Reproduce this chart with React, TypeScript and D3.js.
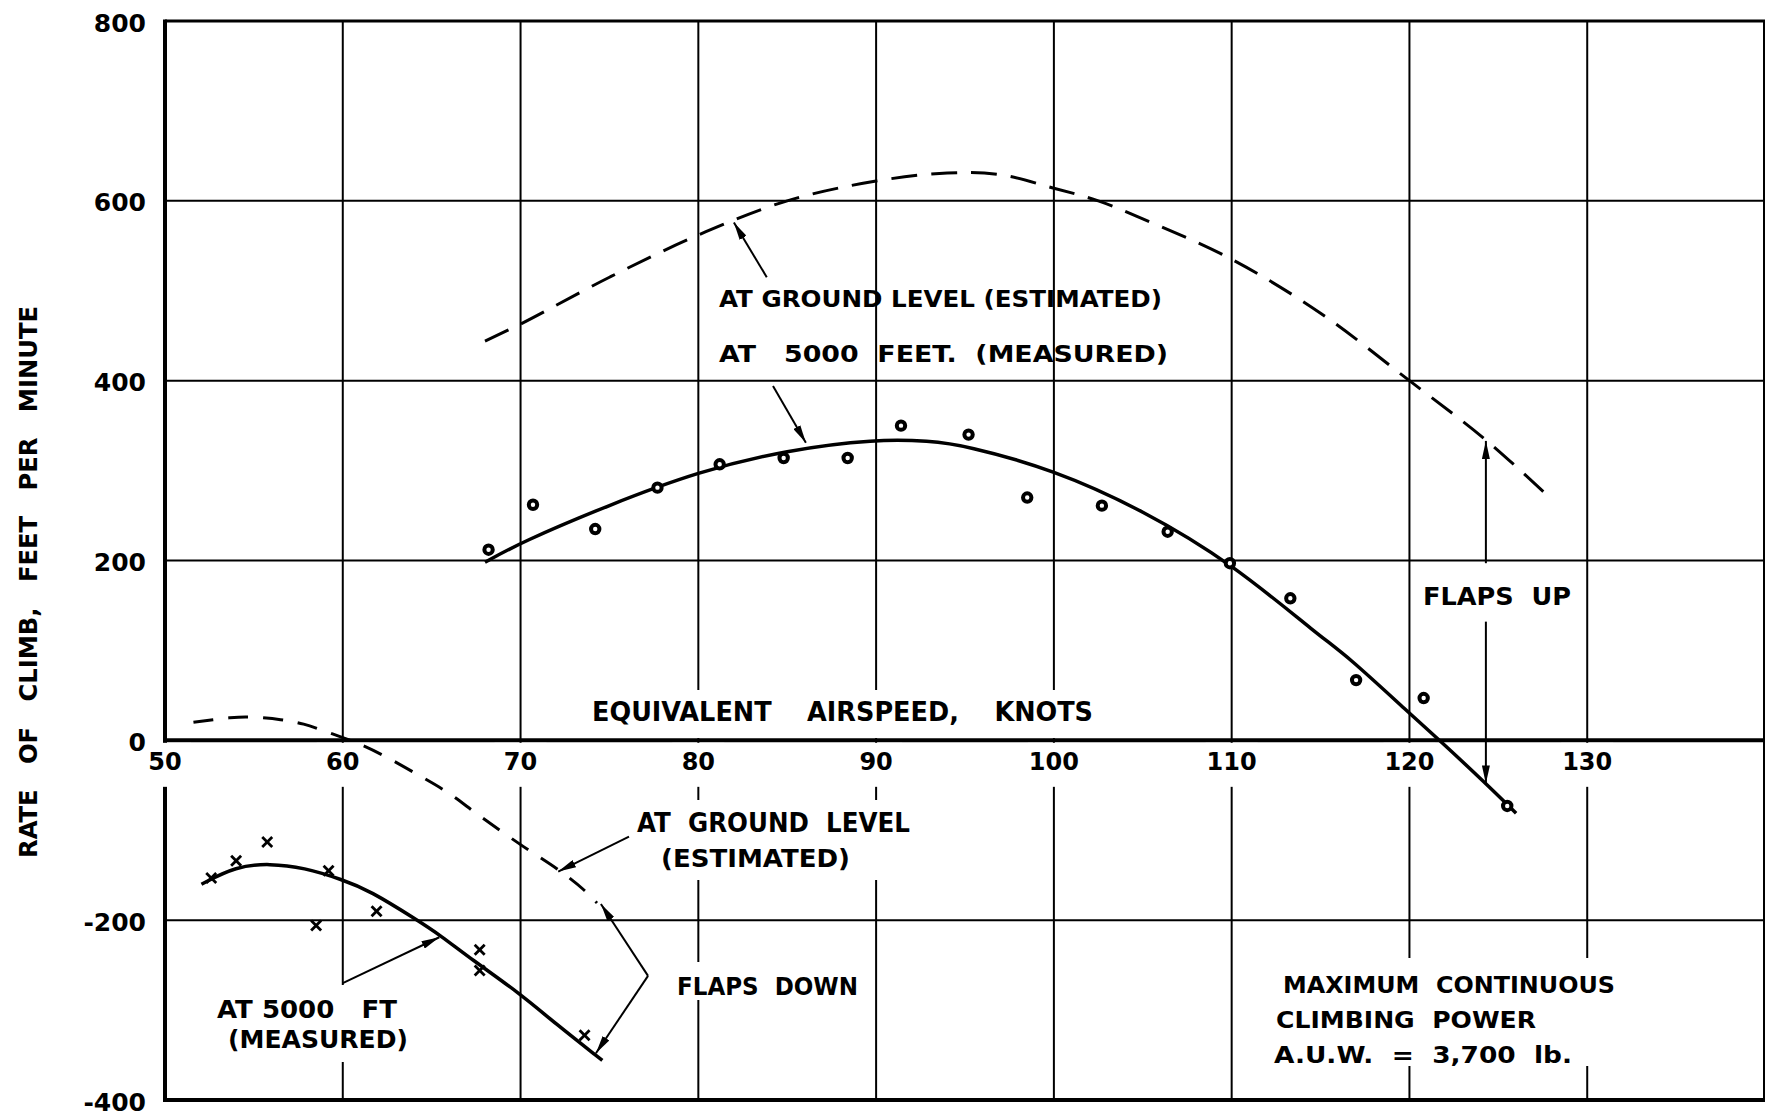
import React from "react";
import * as d3 from "d3";

// ---- axes ----
const X_TICKS = [50, 60, 70, 80, 90, 100, 110, 120, 130];
const X_GRID = [60, 70, 80, 90, 100, 110, 120, 130];
const Y_TICKS = [800, 600, 400, 200, 0, -200, -400];
const Y_TICK_LABELS = ["800", "600", "400", "200", "0", "-200", "-400"];
const Y_GRID = [600, 400, 200, -200];

// ---- flaps up, measured at 5000 ft (circles) ----
const upMeasKnots = [68.2, 70.7, 74.2, 77.7, 81.2, 84.8, 88.4, 91.4, 95.2, 98.5, 102.7, 106.4, 109.9, 113.3, 117.0, 120.8, 125.5];
const upMeasRate = [212, 262, 235, 281, 307, 314, 314, 350, 340, 270, 261, 232, 197, 158, 67, 47, -73];

// ---- flaps up, faired curve at 5000 ft ----
const upFitKnots = [68, 70, 75, 80, 85, 90, 93, 95, 100, 105, 110, 115, 116.5, 120, 121.7, 124.3, 126];
const upFitRate = [198, 220, 262, 299, 323, 335, 333, 328, 301, 256, 197, 115, 94, 30, 0, -48, -81];

// ---- flaps up, ground level (estimated, dashed) ----
const upGndKnots = [68, 70, 75, 80, 85, 90, 94, 97, 100, 102.5, 105, 110, 115, 120, 124.3, 128];
const upGndRate = [444, 463, 515, 562, 600, 622, 631, 629, 614, 600, 580, 535, 475, 400, 334, 268];

// ---- flaps down, measured at 5000 ft (crosses) ----
const dnMeasKnots = [52.6, 54.0, 55.75, 59.2, 58.5, 61.9, 67.7, 67.7, 73.6];
const dnMeasRate = [-153, -134, -113, -145, -206, -190, -233, -256, -328];

// ---- flaps down, faired curve at 5000 ft ----
const dnFitKnots = [52.05, 54, 55.9, 57.8, 60, 61.5, 64.2, 65.5, 67.2, 70, 71.9, 74.6];
const dnFitRate = [-160, -140, -137, -141.5, -155, -167, -200, -217, -243, -282, -314, -356];

// ---- flaps down, ground level (estimated, dashed) ----
const dnGndKnots = [51.6, 53.6, 54.6, 56.5, 57.8, 59.3, 60.8, 62.3, 64.2, 65.9, 67.7, 70, 72.2, 73.6, 74.3];
const dnGndRate = [20, 25, 26, 23, 18, 8, -3, -17, -38, -58, -84, -116, -145, -167, -181];

// ---- annotation arrows (data units: [knots, rate]) ----
const ARROWS: [number, number, number, number][] = [
  [83.85, 515, 82.0, 576], // label -> ground level flaps up
  [84.2, 394, 86.05, 331], // label -> 5000 ft flaps up
  [76.1, -107, 72.12, -146], // lower ground level label
  [60.0, -270, 65.43, -219], // AT 5000 FT measured
  [77.17, -262, 74.52, -182], // flaps down upper
  [77.17, -262, 74.24, -348], // flaps down lower
  [124.3, 197, 124.3, 333], // flaps up upper
  [124.3, 132, 124.3, -48], // flaps up lower
];

// ---- text layout (pixels) ----
const LABELS = [
  { t: "AT GROUND LEVEL (ESTIMATED)", x: 719, y: 307, fs: 23, len: 443 },
  { t: "AT   5000  FEET.  (MEASURED)", x: 719, y: 362, fs: 23, len: 449 },
  { t: "EQUIVALENT    AIRSPEED,    KNOTS", x: 592, y: 721, fs: 26, len: 501 },
  { t: "AT  GROUND  LEVEL", x: 637, y: 832, fs: 26, len: 273 },
  { t: "(ESTIMATED)", x: 661, y: 867, fs: 25, len: 189 },
  { t: "FLAPS  DOWN", x: 677, y: 995, fs: 25, len: 181 },
  { t: "AT 5000   FT", x: 217, y: 1018, fs: 25, len: 180 },
  { t: "(MEASURED)", x: 228, y: 1048, fs: 24, len: 180 },
  { t: "MAXIMUM  CONTINUOUS", x: 1283, y: 993, fs: 23, len: 332 },
  { t: "CLIMBING  POWER", x: 1276, y: 1028, fs: 23, len: 260 },
  { t: "A.U.W.  =  3,700  lb.", x: 1274, y: 1063, fs: 23, len: 298 },
  { t: "FLAPS  UP", x: 1423, y: 605, fs: 25, len: 148 },
];

// white gaps where the draughtsman broke the grid around lettering
const GAPS = [
  { x: 585, y: 690, w: 515, h: 48 },
  { x: 628, y: 800, w: 290, h: 80 },
  { x: 668, y: 962, w: 198, h: 38 },
  { x: 208, y: 985, w: 208, h: 77 },
  { x: 1268, y: 958, w: 357, h: 108 },
];

const W = 1766;
const H = 1117;
const FONT = "'DejaVu Sans', 'Liberation Sans', sans-serif";

export default function App() {
  const x = d3.scaleLinear().domain([50, 140]).range([165, 1765]);
  const y = d3.scaleLinear().domain([-400, 800]).range([1100, 21]);

  const dashLine = d3
    .line<[number, number]>()
    .x((d) => x(d[0]))
    .y((d) => y(d[1]))
    .curve(d3.curveCatmullRom.alpha(0.5));

  const fitLine = d3
    .line<[number, number]>()
    .x((d) => x(d[0]))
    .y((d) => y(d[1]))
    .curve(d3.curveBasis);

  const zip = (a: number[], b: number[]) => a.map((v, i) => [v, b[i]] as [number, number]);

  const upMeas = zip(upMeasKnots, upMeasRate);
  const upFit = zip(upFitKnots, upFitRate);
  const upGnd = zip(upGndKnots, upGndRate);
  const dnMeas = zip(dnMeasKnots, dnMeasRate);
  const dnFit = zip(dnFitKnots, dnFitRate);
  const dnGnd = zip(dnGndKnots, dnGndRate);

  return (
    <svg
      width={W}
      height={H}
      viewBox={`0 0 ${W} ${H}`}
      style={{ position: "absolute", left: 0, top: 0, background: "#fff" }}
    >
      <defs>
        <marker
          id="arr"
          viewBox="0 0 18 8"
          refX={18}
          refY={4}
          markerWidth={18}
          markerHeight={8}
          markerUnits="userSpaceOnUse"
          orient="auto"
        >
          <path d="M0,0 L18,4 L0,8 Z" fill="#000" />
        </marker>
      </defs>
      <rect x={0} y={0} width={W} height={H} fill="#fff" />

      {/* grid */}
      {X_GRID.map((v) => (
        <line key={"gx" + v} x1={x(v)} x2={x(v)} y1={y(800)} y2={y(-400)} stroke="#000" strokeWidth={2} />
      ))}
      {Y_GRID.map((v) => (
        <line key={"gy" + v} x1={x(50)} x2={x(140)} y1={y(v)} y2={y(v)} stroke="#000" strokeWidth={2} />
      ))}
      {/* frame + zero axis */}
      <line x1={x(50)} x2={x(140)} y1={y(800)} y2={y(800)} stroke="#000" strokeWidth={3} />
      <line x1={x(50)} x2={x(140)} y1={y(-400)} y2={y(-400)} stroke="#000" strokeWidth={4} />
      <line x1={x(50)} x2={x(140)} y1={y(0)} y2={y(0)} stroke="#000" strokeWidth={4} />
      <line x1={x(50)} x2={x(50)} y1={y(800) - 1.5} y2={y(-400) + 2} stroke="#000" strokeWidth={4} />
      <line x1={x(140) - 1} x2={x(140) - 1} y1={y(800)} y2={y(-400)} stroke="#000" strokeWidth={2} />

      {/* gaps in the grid */}
      {X_TICKS.map((v) => (
        <rect key={"gap" + v} x={x(v) - 26} y={y(0) + 2.5} width={52} height={44} fill="#fff" />
      ))}
      {GAPS.map((g, i) => (
        <rect key={"g" + i} x={g.x} y={g.y} width={g.w} height={g.h} fill="#fff" />
      ))}

      {/* curves */}
      <path d={dashLine(upGnd) || ""} fill="none" stroke="#000" strokeWidth={3} strokeDasharray="26,14" />
      <path d={fitLine(upFit) || ""} fill="none" stroke="#000" strokeWidth={3.5} />
      <path d={dashLine(dnGnd) || ""} fill="none" stroke="#000" strokeWidth={3} strokeDasharray="20,15" />
      <path d={fitLine(dnFit) || ""} fill="none" stroke="#000" strokeWidth={3.5} />

      {/* measured points */}
      {upMeas.map((d, i) => (
        <circle key={"c" + i} cx={x(d[0])} cy={y(d[1])} r={4.2} fill="#fff" stroke="#000" strokeWidth={4} />
      ))}
      {dnMeas.map((d, i) => {
        const cx = x(d[0]);
        const cy = y(d[1]);
        const s = 5;
        return (
          <g key={"x" + i} stroke="#000" strokeWidth={2.8}>
            <line x1={cx - s} y1={cy - s} x2={cx + s} y2={cy + s} />
            <line x1={cx - s} y1={cy + s} x2={cx + s} y2={cy - s} />
          </g>
        );
      })}

      {/* annotation arrows */}
      {ARROWS.map((a, i) => (
        <line
          key={"a" + i}
          x1={x(a[0])}
          y1={y(a[1])}
          x2={x(a[2])}
          y2={y(a[3])}
          stroke="#000"
          strokeWidth={2}
          markerEnd="url(#arr)"
        />
      ))}

      {/* tick labels */}
      <g fontFamily={FONT} fontWeight="bold" fill="#000">
        {Y_TICKS.map((v, i) => (
          <text key={"yt" + v} x={146} y={y(v) + 2} fontSize={25} textAnchor="end" dominantBaseline="central">
            {Y_TICK_LABELS[i]}
          </text>
        ))}
        {X_TICKS.map((v) => (
          <text key={"xt" + v} x={x(v)} y={770} fontSize={24} textAnchor="middle">
            {String(v)}
          </text>
        ))}
        <text
          transform="translate(37,858) rotate(-90)"
          fontSize={25}
          textLength={552}
          lengthAdjust="spacingAndGlyphs"
          style={{ whiteSpace: "pre" }}
        >
          {"RATE   OF   CLIMB,   FEET   PER   MINUTE"}
        </text>
        {LABELS.map((l, i) => (
          <text
            key={"l" + i}
            x={l.x}
            y={l.y}
            fontSize={l.fs}
            textLength={l.len}
            lengthAdjust="spacingAndGlyphs"
            style={{ whiteSpace: "pre" }}
          >
            {l.t}
          </text>
        ))}
      </g>
    </svg>
  );
}
